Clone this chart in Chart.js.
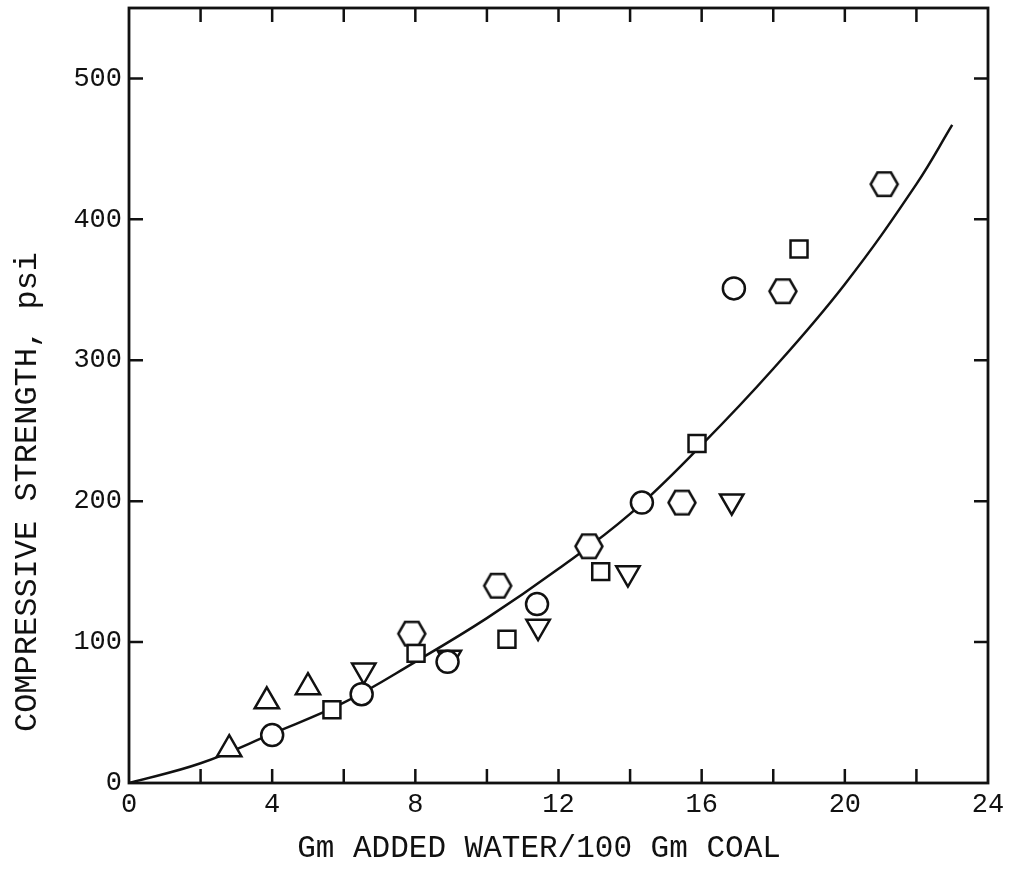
<!DOCTYPE html>
<html>
<head>
<meta charset="utf-8">
<script src="https://cdn.jsdelivr.net/npm/chart.js@4/dist/chart.umd.min.js"></script>
<style>
  body{ margin:0; background:#fff; }
  #wrap{ width:1019px; height:873px; }
</style>
</head>
<body>
<div id="wrap"><canvas id="c" width="1019" height="873"></canvas></div>
<script>
// ==== DATA ====
const circleX   = [4.0, 6.5, 8.9, 11.4, 14.33, 16.9];
const circleY   = [34, 63, 86, 127, 199, 351];
const squareX   = [5.67, 8.02, 10.56, 13.18, 15.87, 18.72];
const squareY   = [52, 92, 102, 150, 241, 379];
const hexX      = [7.9, 10.3, 12.85, 15.45, 18.27, 21.1];
const hexY      = [106, 140, 168, 199, 349, 425];
const triUpX    = [2.8, 3.85, 5.0];
const triUpY    = [24, 58, 68];
const triDownX  = [6.56, 8.95, 11.43, 13.94, 16.84];
const triDownY  = [80, 89, 111, 149, 200];

// fitted curve
const curveX = [0, 2, 4, 6, 8, 10, 12, 14, 16, 18, 20, 22, 23];
const curveY = [0, 14, 35, 57, 86, 117, 152, 191, 240, 294, 354, 425, 467];

const xTitle = "Gm ADDED WATER/100 Gm COAL";
const yTitle = "COMPRESSIVE STRENGTH, psi";

// helpers
const pts = (xs, ys) => xs.map((x,i)=>({x, y:ys[i]}));
const INK = "#111";
const FONT = "'Liberation Mono', 'DejaVu Sans Mono', monospace";

function hexImg(r, lw){
  const s = Math.ceil(2*r + lw + 2);
  const c = document.createElement("canvas");
  c.width = s; c.height = s;
  const g = c.getContext("2d");
  g.beginPath();
  for(let i=0;i<6;i++){
    const a = Math.PI/3*i;
    const px = s/2 + r*Math.cos(a), py = s/2 + r*Math.sin(a);
    i ? g.lineTo(px,py) : g.moveTo(px,py);
  }
  g.closePath();
  g.fillStyle = "#fff"; g.fill();
  g.lineWidth = lw; g.strokeStyle = INK; g.stroke();
  return c;
}

function markerSet(data, style, radius, extra){
  return Object.assign({
    type:"scatter", data, order:0,
    pointStyle: style, pointRadius: radius, pointHoverRadius: radius,
    pointBackgroundColor:"#fff", pointBorderColor:INK, pointBorderWidth:2.5,
    showLine:false
  }, extra||{});
}

// inward ticks, frame and the two axis titles
const frameTicks = {
  id:"frameTicks",
  afterDraw(chart){
    const {ctx, chartArea:a, scales:{x, y}} = chart;
    const L = 14;
    ctx.save();
    ctx.strokeStyle = INK;
    ctx.lineWidth = 2.5;
    ctx.beginPath();
    x.ticks.forEach(t=>{
      if(t.value<=x.min || t.value>=x.max) return;
      const px = x.getPixelForValue(t.value);
      ctx.moveTo(px, a.bottom); ctx.lineTo(px, a.bottom - L);
      ctx.moveTo(px, a.top);    ctx.lineTo(px, a.top + L);
    });
    y.ticks.forEach(t=>{
      if(t.value<=y.min || t.value>=y.max) return;
      const py = y.getPixelForValue(t.value);
      ctx.moveTo(a.left, py);  ctx.lineTo(a.left + L, py);
      ctx.moveTo(a.right, py); ctx.lineTo(a.right - L, py);
    });
    ctx.stroke();
    ctx.lineWidth = 2.8;
    ctx.strokeRect(a.left, a.top, a.right - a.left, a.bottom - a.top);

    // titles
    ctx.fillStyle = INK;
    ctx.textAlign = "center";
    ctx.textBaseline = "middle";
    ctx.font = "31px " + FONT;
    ctx.fillText(xTitle, 539, 849);
    ctx.translate(28, 492);
    ctx.rotate(-Math.PI/2);
    ctx.font = "32px " + FONT;
    ctx.fillText(yTitle, 0, 0);
    ctx.restore();
  }
};

new Chart(document.getElementById("c"), {
  type:"scatter",
  data:{
    datasets:[
      markerSet(pts(circleX, circleY), "circle", 11),
      markerSet(pts(squareX, squareY), "rect", 12),
      markerSet(pts(hexX, hexY), hexImg(13.5, 2.5), 14),
      markerSet(pts(triUpX, triUpY), "triangle", 14),
      markerSet(pts(triDownX, triDownY), "triangle", 13.5, {pointRotation:180}),
      {
        type:"line", data:pts(curveX, curveY), order:10,
        borderColor:INK, borderWidth:2.5, pointRadius:0,
        tension:0.4, fill:false
      }
    ]
  },
  options:{
    responsive:false,
    animation:false,
    events:[],
    layout:{ autoPadding:false, padding:{ top:8, right:31, left:0, bottom:0 } },
    plugins:{ legend:{display:false}, tooltip:{enabled:false} },
    scales:{
      x:{
        type:"linear", min:0, max:24,
        grid:{ display:false, drawTicks:false, tickLength:0 }, border:{ display:false },
        ticks:{
          stepSize:2, padding:6, color:INK, maxRotation:0, autoSkip:false,
          font:{ family:FONT, size:27 },
          callback: v => (v % 4 === 0 ? String(v) : "")
        },
        afterFit: s => { s.height = 90; s.paddingLeft = 0; s.paddingRight = 0; }
      },
      y:{
        type:"linear", min:0, max:550,
        grid:{ display:false, drawTicks:false, tickLength:0 }, border:{ display:false },
        afterBuildTicks: s => { s.ticks = s.ticks.filter(t => t.value % 100 === 0); },
        ticks:{
          stepSize:100, padding:7, color:INK,
          font:{ family:FONT, size:27 }
        },
        afterFit: s => { s.width = 129; s.paddingTop = 0; s.paddingBottom = 0; }
      }
    }
  },
  plugins:[frameTicks]
});
</script>
</body>
</html>
